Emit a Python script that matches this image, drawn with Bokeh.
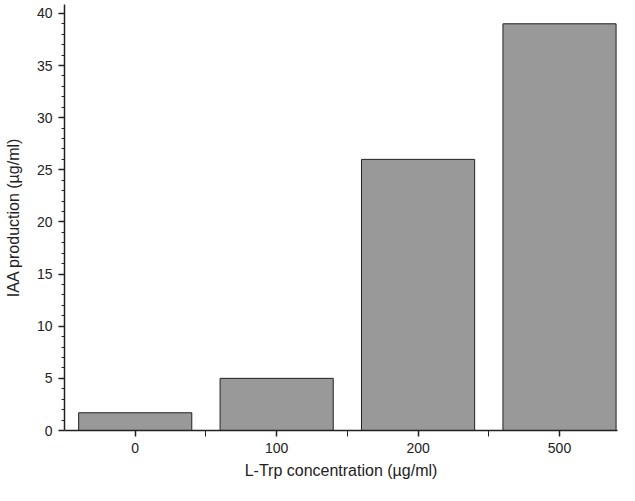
from bokeh.plotting import figure
from bokeh.models import FixedTicker
from bokeh.embed import file_html
from bokeh.resources import INLINE

categories = ["0", "100", "200", "500"]
values = [1.7, 5.0, 26.0, 39.0]
xs = list(range(len(categories)))

p = figure(width=619, height=485, output_backend="svg", toolbar_location=None,
           x_range=(-0.5, 3.41), y_range=(0, 40.85),
           min_border_left=64, min_border_right=2, min_border_top=4, min_border_bottom=55)
p.outline_line_color = None
p.grid.visible = False
p.background_fill_color = "white"

p.vbar(x=xs, top=values, width=0.8, bottom=0, fill_color="#999999", line_color="#222222", line_width=1)

p.xaxis.ticker = FixedTicker(ticks=xs, minor_ticks=[0.5, 1.5, 2.5])
p.xaxis.major_label_overrides = {i: c for i, c in enumerate(categories)}
p.yaxis.ticker = FixedTicker(ticks=list(range(0, 45, 5)), minor_ticks=[i for i in range(0, 41) if i % 5])

for ax in (p.xaxis, p.yaxis):
    ax.axis_line_color = "#222222"
    ax.axis_line_width = 1.5
    ax.major_tick_line_color = "#222222"
    ax.major_tick_line_width = 1.5
    ax.minor_tick_line_color = "#222222"
    ax.major_tick_in = 0
    ax.major_tick_out = 6
    ax.minor_tick_in = 0
    ax.minor_tick_out = 3
    ax.major_label_text_font = "Liberation Sans"
    ax.major_label_text_font_size = "14px"
    ax.major_label_text_color = "#222222"
    ax.axis_label_text_font = "Liberation Sans"
    ax.axis_label_text_font_size = "16px"
    ax.axis_label_text_font_style = "normal"
    ax.axis_label_text_color = "#222222"

p.xaxis.axis_label = "L-Trp concentration (µg/ml)"
p.yaxis.axis_label = "IAA production (µg/ml)"
p.xaxis.minor_tick_out = 6
p.xaxis.major_label_standoff = 6
p.xaxis.axis_label_standoff = 6
p.yaxis.major_label_standoff = 6
p.yaxis.axis_label_standoff = 12

open("out.html", "w").write(file_html(p, INLINE))
